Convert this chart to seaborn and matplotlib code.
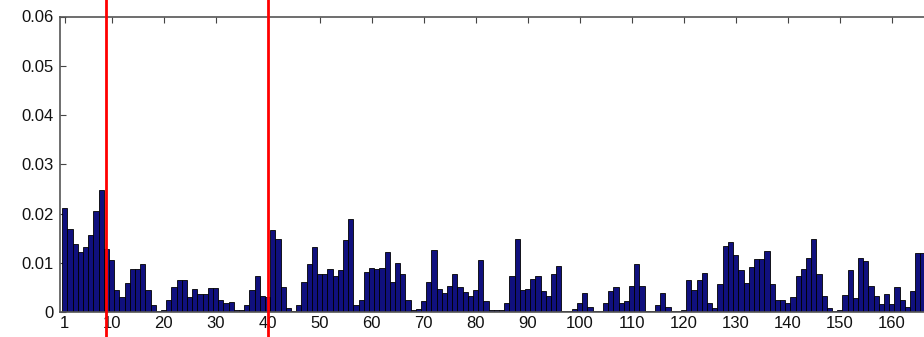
import matplotlib
matplotlib.use("Agg")
import matplotlib.pyplot as plt
import seaborn as sns
import pandas as pd

# ---- data ----
values = [
    0.0212, 0.0168, 0.0138, 0.0122, 0.0131, 0.0156, 0.0205, 0.0248, 0.0127, 0.0105,
    0.0045, 0.0030, 0.0058, 0.0088, 0.0088, 0.0097, 0.0045, 0.0015, 0.0002, 0.0005,
    0.0025, 0.0050, 0.0065, 0.0065, 0.0030, 0.0046, 0.0037, 0.0037, 0.0049, 0.0049,
    0.0025, 0.0018, 0.0021, 0.0005, 0.0005, 0.0015, 0.0045, 0.0074, 0.0033, 0.0030,
    0.0166, 0.0148, 0.0050, 0.0009, 0.0002, 0.0015, 0.0061, 0.0097, 0.0132, 0.0077,
    0.0077, 0.0087, 0.0073, 0.0085, 0.0146, 0.0188, 0.0015, 0.0025, 0.0082, 0.0090,
    0.0087, 0.0090, 0.0122, 0.0060, 0.0100, 0.0078, 0.0025, 0.0005, 0.0007, 0.0023,
    0.0061, 0.0125, 0.0047, 0.0038, 0.0052, 0.0078, 0.0050, 0.0040, 0.0033, 0.0045,
    0.0105, 0.0022, 0.0005, 0.0005, 0.0005, 0.0018, 0.0073, 0.0149, 0.0045, 0.0047,
    0.0067, 0.0073, 0.0042, 0.0033, 0.0077, 0.0093, 0.0002, 0.0002, 0.0007, 0.0018,
    0.0038, 0.0011, 0.0002, 0.0002, 0.0018, 0.0042, 0.0050, 0.0019, 0.0023, 0.0053,
    0.0098, 0.0053, 0.0003, 0.0002, 0.0014, 0.0039, 0.0011, 0.0002, 0.0002, 0.0004,
    0.0065, 0.0044, 0.0065, 0.0080, 0.0019, 0.0009, 0.0056, 0.0133, 0.0142, 0.0115,
    0.0085, 0.0058, 0.0092, 0.0108, 0.0108, 0.0124, 0.0057, 0.0025, 0.0025, 0.0018,
    0.0030, 0.0074, 0.0088, 0.0109, 0.0149, 0.0077, 0.0033, 0.0008, 0.0003, 0.0005,
    0.0035, 0.0086, 0.0028, 0.0109, 0.0104, 0.0052, 0.0032, 0.0016, 0.0036, 0.0016,
    0.0050, 0.0025, 0.0011, 0.0042, 0.0119, 0.0119,
]
positions = list(range(1, len(values) + 1))
xtick_values = [1, 10, 20, 30, 40, 50, 60, 70, 80, 90, 100, 110, 120, 130, 140, 150, 160]
ytick_values = [0, 0.01, 0.02, 0.03, 0.04, 0.05, 0.06]
ytick_labels = ["0", "0.01", "0.02", "0.03", "0.04", "0.05", "0.06"]
marker_lines = [9, 40]

df = pd.DataFrame({"pos": positions, "val": values})

sns.set_theme(style="white")
plt.rcParams["font.family"] = ["Liberation Sans", "DejaVu Sans"]

W, H = 924, 337
fig = plt.figure(figsize=(W / 100, H / 100), dpi=100)
left_px, bottom_px, top_px = 59.5, 25, 16.5
ax = fig.add_axes([left_px / W, bottom_px / H, (W - left_px) / W, (H - bottom_px - top_px) / H])

sns.barplot(data=df, x="pos", y="val", native_scale=True, width=1.0,
            color="#10107e", saturation=1, edgecolor="black", linewidth=0.6,
            errorbar=None, ax=ax)

ax.set_xlim(0, 166.2)
ax.set_ylim(0, 0.06)
ax.set_xticks(xtick_values)
ax.set_xticklabels([str(v) for v in xtick_values])
ax.set_yticks(ytick_values)
ax.set_yticklabels(ytick_labels)
ax.set_xlabel("")
ax.set_ylabel("")

ax.tick_params(axis="both", direction="in", length=4, width=0.8, color="#444444",
               labelsize=12, labelcolor="#111111")
ax.tick_params(axis="x", top=True, pad=3)
ax.tick_params(axis="y", left=True, pad=4)

for name, sp in ax.spines.items():
    sp.set_color("#555555")
    sp.set_linewidth(1.2)
ax.spines["right"].set_visible(False)

for xv in marker_lines:
    ax.axvline(xv, ymin=-0.1, ymax=1.08, color="#ff0000", lw=2.0, clip_on=False, zorder=10)

fig.savefig("out.png", dpi=100, facecolor="white")
